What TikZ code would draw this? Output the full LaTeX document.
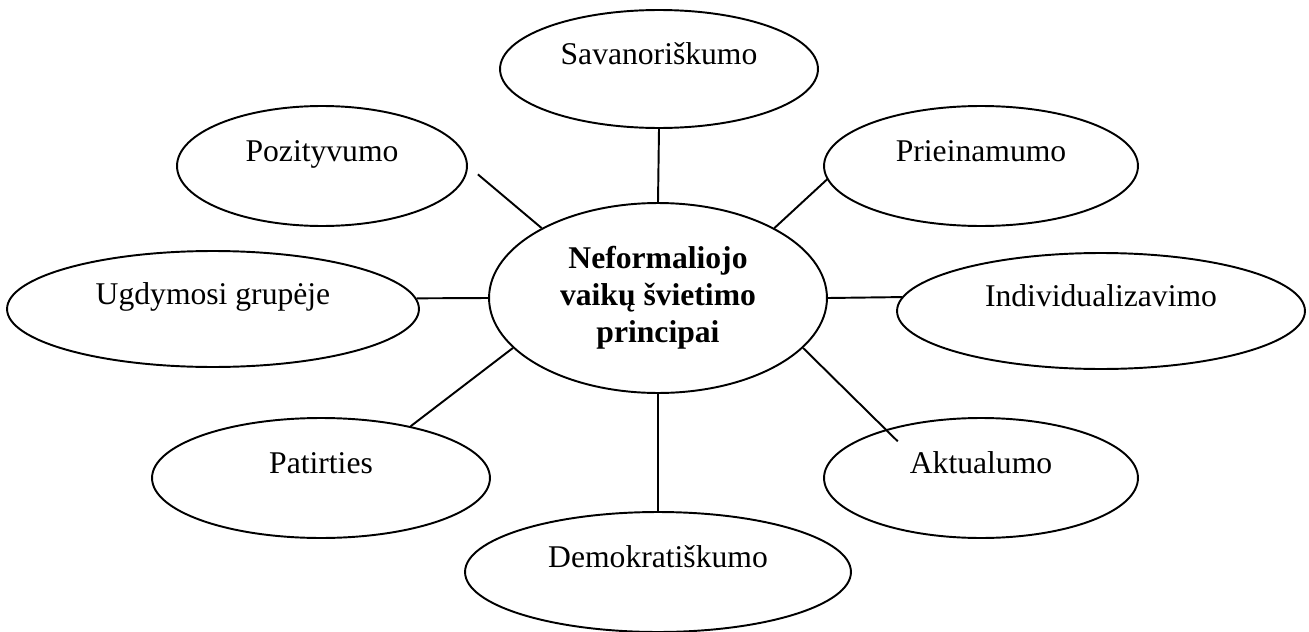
\documentclass[tikz,border=0pt]{standalone}
\usepackage{fontspec}
\setmainfont{Liberation Serif}
\usetikzlibrary{shapes.geometric}
\begin{document}
\begin{tikzpicture}[x=0.02cm,y=-0.02cm,line width=1.1pt,
  principle/.style={draw,ellipse,inner sep=0pt,font=\fontsize{18}{21}\selectfont,
    text height=12pt,text depth=17.6pt},
  core/.style={draw,ellipse,inner sep=0pt,align=center,
    font=\fontsize{18}{21}\selectfont\bfseries}]
\useasboundingbox (0,0) rectangle (1309,632);
\node[core,minimum width=6.76cm,minimum height=3.8cm] (core) at (658,298)
  {Neformaliojo\\vaikų švietimo\\principai};
\node[principle,minimum width=6.36cm,minimum height=2.36cm] (sav) at (659,69) {Savanoriškumo};
\node[principle,minimum width=6.28cm,minimum height=2.4cm] (pri) at (981,166) {Prieinamumo};
\node[principle,minimum width=8.16cm,minimum height=2.32cm] (ind) at (1101,311) {Individualizavimo};
\node[principle,minimum width=6.28cm,minimum height=2.4cm] (akt) at (981,478) {Aktualumo};
\node[principle,minimum width=7.72cm,minimum height=2.4cm] (dem) at (658,572) {Demokratiškumo};
\node[principle,minimum width=6.76cm,minimum height=2.4cm] (pat) at (321,478) {Patirties};
\node[principle,minimum width=8.24cm,minimum height=2.32cm] (ugd) at (213,309) {Ugdymosi grupėje};
\node[principle,minimum width=5.8cm,minimum height=2.4cm] (poz) at (322,166) {Pozityvumo};
% connectors
\foreach \a/\b in {core.90/sav.270,core.31/pri.185,core.0/ind.176,core.270/dem.90,
  core.199/pat.30,core.180/ugd.3}
  \draw (\a) -- (\b);
\draw[shorten >=0.26cm] (core.149) -- (poz.0);
\draw[shorten >=-0.34cm] (core.341) -- (akt.153);
\end{tikzpicture}
\end{document}
